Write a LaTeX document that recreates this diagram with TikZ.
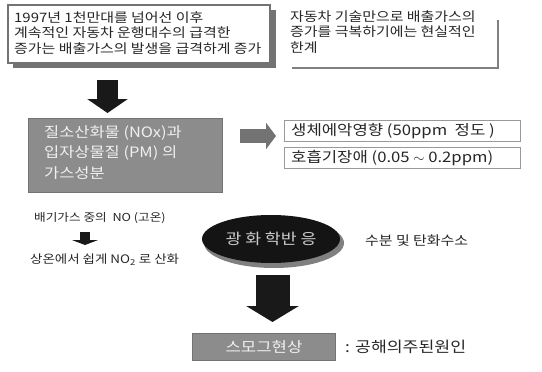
\documentclass[tikz,border=0pt]{standalone}
\usepackage{fontspec}
\setmainfont{Noto Sans CJK KR}[FakeStretch=1.15]
\usetikzlibrary{arrows.meta,shapes.geometric}
\begin{document}
\begin{tikzpicture}[x=1pt,y=-1pt,
  txt/.style={inner sep=0pt,anchor=west,font=\fontsize{13}{15.5}\selectfont,text=black!85},
  gbox/.style={fill=black!45,draw=black!55,line width=1pt},
  wtxt/.style={text=white!88!gray,inner sep=0pt,anchor=west,font=\fontsize{14.3}{20.5}\selectfont},
  rbox/.style={draw=gray!80,line width=0.9pt,minimum width=236pt,minimum height=21pt,inner sep=0pt},
  blk/.style={draw=none,fill=black!90}]
\useasboundingbox (0,0) rectangle (542,372);
% box 1
\fill[black!55] (13,10) rectangle (276,68);
\fill[white] (8,5) rectangle (270,63);
\draw[black!55,line width=1.6pt] (8,5) rectangle (270,63);
\node[txt,align=left,anchor=north west] (t1) at (14,11) {1997년 1천만대를 넘어선 이후\\계속적인 자동차 운행대수의 급격한\\증가는 배출가스의 발생을 급격하게 증가};
% box 2
\draw[black!50,line width=2pt] (498,20) -- (498,68) -- (292,68);
\node[txt,align=left,anchor=north west] (t2) at (290,10) {자동차 기술만으로 배출가스의\\증가를 극복하기에는 현실적인\\한계};
% gray box
\node[gbox,minimum width=194pt,minimum height=74pt,anchor=north west] (g) at (28,118) {};
\node[wtxt,align=left,anchor=north west] (gt) at (44,125) {질소산화물 (NOx)과\\입자상물질 (PM) 의\\가스성분};
% arrows
\coordinate (a1s) at (107.5,80); \coordinate (a1e) at (107.5,113);
\draw[black!90,line width=21pt,-{Triangle[width=40pt,length=14pt]}] (a1s) -- (a1e);
\coordinate (a2s) at (240,136); \coordinate (a2e) at (276,136);
\draw[black!55,line width=14pt,-{Triangle[width=26pt,length=10pt]}] (a2s) -- (a2e);
% right boxes
\node[rbox,anchor=north west] (r1) at (284,120) {};
\node[txt,font=\fontsize{14.5}{16}\selectfont] at (291,131) {생체에악영향 (50ppm\ \ 정도 )};
\node[rbox,anchor=north west] (r2) at (284,147) {};
\node[txt,font=\fontsize{14.5}{16}\selectfont] at (291,158) {호흡기장애 (0.05 $\sim$ 0.2ppm)};
% left texts
\node[txt,font=\fontsize{11}{14}\selectfont] (l1) at (34,218) {배기가스 중의\ \ NO (고온)};
\coordinate (a3s) at (85,232); \coordinate (a3e) at (85,245);
\draw[black!90,line width=10pt,-{Triangle[width=26pt,length=5pt]}] (a3s) -- (a3e);
\node[txt,font=\fontsize{11.7}{14}\selectfont] (l2) at (30,260) {상온에서 쉽게 NO\textsubscript{2} 로 산화};
% ellipse
\fill[black!50] (274,243) ellipse (70pt and 25pt);
\node[ellipse,fill=black!92,minimum width=138pt,minimum height=48pt,inner sep=0pt] (e) at (271,239) {};
\node[text=gray!40,font=\fontsize{15}{17}\selectfont] at (e) {광 화 학반 응};
\node[txt,font=\fontsize{13}{15}\selectfont] (w) at (365,241) {수분 및 탄화수소};
% big arrow
\coordinate (a4s) at (272.5,275); \coordinate (a4e) at (272.5,322);
\draw[black!90,line width=34pt,-{Triangle[width=52pt,length=16pt]}] (a4s) -- (a4e);
% bottom box
\node[gbox,minimum width=143pt,minimum height=27pt,anchor=north west] (s) at (192,333) {};
\node[text=white!88!gray,font=\fontsize{14.5}{16}\selectfont] at (s) {스모그현상};
\node[txt,font=\fontsize{15}{17}\selectfont] (c) at (345,347) {: 공해의주된원인};
\end{tikzpicture}
\end{document}
